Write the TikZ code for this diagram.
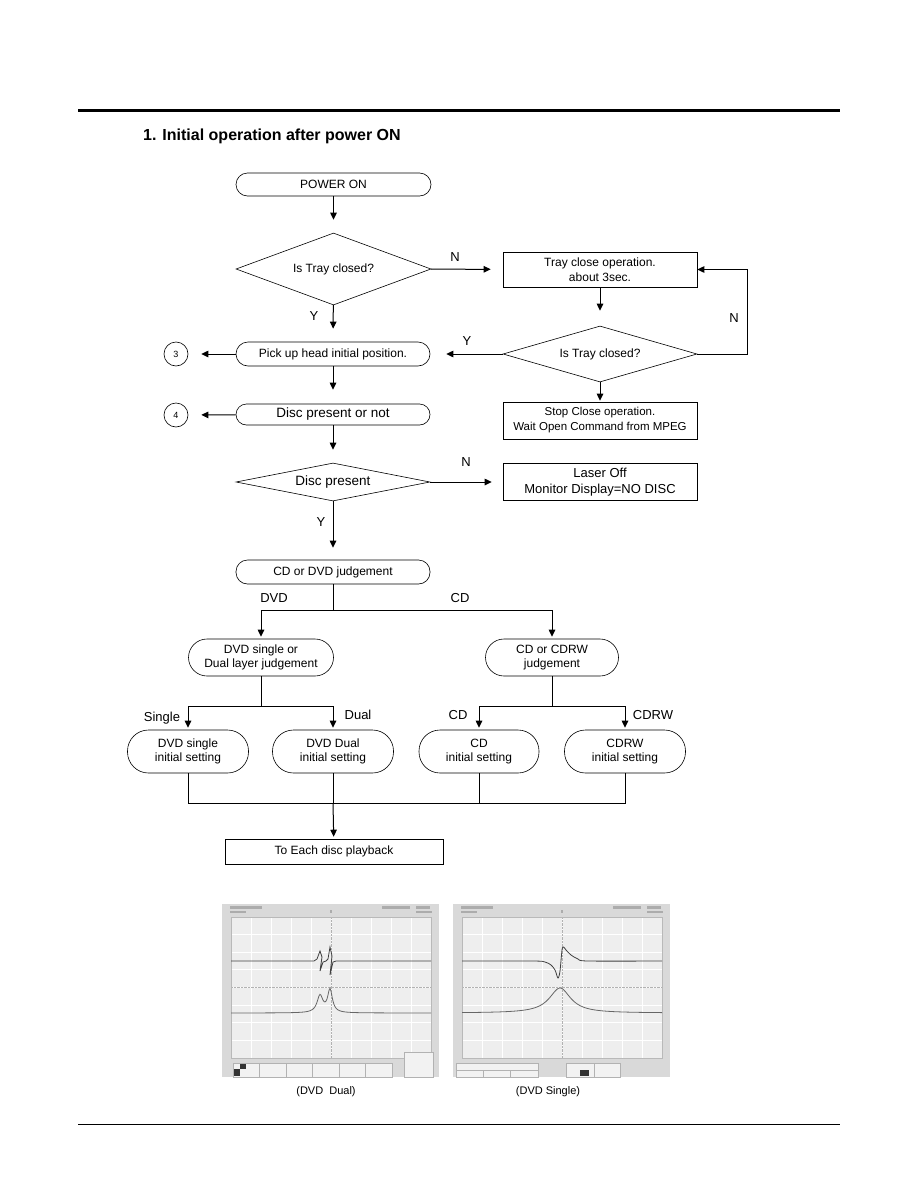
\documentclass[tikz,border=0pt]{standalone}
\usepackage{fontspec}
\setmainfont{Liberation Sans}
\usetikzlibrary{arrows.meta,shapes.geometric}

\newcommand{\oscgrid}{%
  \fill[gray!30] (0,0) rectangle (217,173);
  \fill[gray!13] (9,13) rectangle (209,154);
  \foreach \i in {0,...,10}
    \draw[white,line width=0.9pt] ({9+20*\i},13) -- ({9+20*\i},154);
  \foreach \j in {0,...,8}
    \draw[white,line width=0.9pt] (9,{13+17.625*\j}) -- (209,{13+17.625*\j});
  \draw[gray!60,densely dotted] (109,13) -- (109,154);
  \draw[gray!60,densely dotted] (9,83.5) -- (209,83.5);
  \draw[gray!55,line width=0.5pt] (9,13) rectangle (209,154);
  % readout marks
  \fill[gray!65] (8,2) rectangle (40,4.5);
  \fill[gray!65] (8,6.5) rectangle (24,9);
  \fill[gray!65] (160,2) rectangle (188,4.5);
  \fill[gray!65] (194,2) rectangle (208,4.5);
  \fill[gray!65] (194,6.5) rectangle (210,9);
  \fill[gray!65] (108,6) rectangle (110,9);
}

\begin{document}
\begin{tikzpicture}[x=1pt,y=-1pt,
  txt/.style={font=\fontsize{12}{14.5}\selectfont,align=center},
  pill/.style={draw,line width=0.6pt,txt,inner sep=0pt,rounded corners=#1},
  pill/.default=11.5pt,
  box/.style={draw,line width=0.6pt,txt,inner sep=0pt},
  test/.style={diamond,aspect=5,draw,line width=0.6pt,txt,inner sep=0pt},
  conn/.style={circle,draw,line width=0.6pt,minimum size=24pt,inner sep=0pt,
    font=\fontsize{9}{10}\selectfont},
  arr/.style={line width=1pt,-{Triangle[length=7pt,width=6.5pt]}},
  lnk/.style={line width=1pt},
  lab/.style={font=\fontsize{13}{15}\selectfont},
  scopecap/.style={font=\fontsize{11}{13}\selectfont}]

\useasboundingbox (0,0) rectangle (918,1188);

% Page rules and title
\draw[line width=3pt] (78,111) -- (840,111);
\draw[line width=0.9pt] (78,1124) -- (840,1124);
\node[anchor=base west,inner sep=0pt,font=\fontsize{16}{18}\selectfont\bfseries]
(title)
at (143,141)
{1. Initial operation after power ON};

% Power on and tray check
\node[pill,minimum width=195pt,minimum height=23pt]
(power)
at (333.5,184.5)
{POWER ON};

\node[test,minimum width=195pt,minimum height=72pt]
(trayA)
at (333.5,269)
{Is Tray closed?};

\node[box,minimum width=194pt,minimum height=35pt]
(close)
at (600,269.5)
{Tray close operation.\\about 3sec.};

\node[test,minimum width=194pt,minimum height=56pt]
(trayB)
at (600,354)
{Is Tray closed?};

\node[box,minimum width=194pt,minimum height=37pt,
  font=\fontsize{11.5}{15}\selectfont]
(stop)
at (600,420.5)
{Stop Close operation.\\Wait Open Command from MPEG};

% Pick up and disc check
\node[pill=12pt,minimum width=194pt,minimum height=24pt]
(pickup)
at (333,354)
{Pick up head initial position.};

\node[conn]
(c3)
at (176,354)
{3};

\node[pill=10.5pt,minimum width=194pt,minimum height=21pt,
  font=\fontsize{13.5}{15}\selectfont]
(discq)
at (333,414.5)
{Disc present or not};

\node[conn]
(c4)
at (176,415)
{4};

\node[test,minimum width=194pt,minimum height=38pt,
  font=\fontsize{13.5}{15}\selectfont]
(disc)
at (333,482)
{Disc present};

\node[box,minimum width=194pt,minimum height=37pt,
  font=\fontsize{13}{16}\selectfont]
(laser)
at (600,482)
{Laser Off\\Monitor Display=NO DISC};

% Disc type judgement
\node[pill,minimum width=194pt,minimum height=24pt]
(kind)
at (333,572)
{CD or DVD judgement};

\node[pill=18.5pt,minimum width=145pt,minimum height=37pt]
(dvdjudge)
at (261,657.5)
{DVD single or\\Dual layer judgement};

\node[pill=18.5pt,minimum width=133pt,minimum height=37pt]
(cdjudge)
at (552,657.5)
{CD or CDRW\\judgement};

% Initial settings
\node[pill=21pt,minimum width=121pt,minimum height=43pt]
(dvdsingle)
at (188,751.5)
{DVD single\\initial setting};

\node[pill=21pt,minimum width=121pt,minimum height=43pt]
(dvddual)
at (333,751.5)
{DVD Dual\\initial setting};

\node[pill=21pt,minimum width=120pt,minimum height=43pt]
(cdset)
at (479,751.5)
{CD\\initial setting};

\node[pill=21pt,minimum width=121pt,minimum height=43pt]
(cdrwset)
at (625,751.5)
{CDRW\\initial setting};

\node[box,minimum width=218pt,minimum height=25pt]
(play)
at (334,851.5)
{To Each disc playback};

% Junctions
\coordinate (split) at (333,610);
\coordinate (dvdsplit) at (261,706);
\coordinate (cdsplit) at (552,706);
\coordinate (merge) at (333,803);

% Connectors
\draw[arr,shorten >=13pt] (power) -- (trayA);
\draw[arr,shorten >=12pt] (trayA) -- (close);
\draw[arr,shorten >=13pt] (trayA) -- (pickup);
\draw[arr,shorten >=15pt] (close) -- (trayB);
\draw[arr,shorten >=16pt] (trayB) -- (pickup);
\draw[arr,shorten >=1pt] (trayB) -- (stop);
\draw[arr] (trayB.east) -- ++(50,0) |- (close.east);
\draw[arr,shorten >=13pt] (pickup) -- (c3);
\draw[arr,shorten >=14pt] (pickup) -- (discq);
\draw[arr,shorten >=13pt] (discq) -- (c4);
\draw[arr,shorten >=13pt] (discq) -- (disc);
\draw[arr,shorten >=11pt] (disc) -- (laser);
\draw[arr,shorten >=12pt] (disc) -- (kind);

\draw[lnk] (kind) -- (split);
\draw[arr,shorten >=2pt] (split) -| (dvdjudge);
\draw[arr,shorten >=2pt] (split) -| (cdjudge);
\draw[lnk] (dvdjudge) -- (dvdsplit);
\draw[arr,shorten >=2pt] (dvdsplit) -| (dvdsingle);
\draw[arr,shorten >=2pt] (dvdsplit) -| (dvddual);
\draw[lnk] (cdjudge) -- (cdsplit);
\draw[arr,shorten >=2pt] (cdsplit) -| (cdset);
\draw[arr,shorten >=2pt] (cdsplit) -| (cdrwset);

\draw[lnk] (dvdsingle) |- (merge);
\draw[lnk] (cdrwset) |- (merge);
\draw[lnk] (cdset) -- (cdset |- merge);
\draw[lnk] (dvddual) -- (merge);
\draw[arr,shorten >=2pt] (merge) -- (play);

% Branch labels
\node[lab] (nA) at (455,257) {N};
\node[lab] (yA) at (314,316) {Y};
\node[lab] (yB) at (467,341) {Y};
\node[lab] (nB) at (734,318) {N};
\node[lab] (nC) at (466,462) {N};
\node[lab] (yC) at (321,522) {Y};
\node[lab] (ldvd) at (274,598) {DVD};
\node[lab] (lcd) at (460,598) {CD};
\node[lab] (lsingle) at (162,718) {Single};
\node[lab] (ldual) at (358,715) {Dual};
\node[lab] (lcdb) at (458,715) {CD};
\node[lab] (lcdrw) at (653,715) {CDRW};

% Scope screenshots
\begin{scope}[shift={(222,904)}]
  \oscgrid
  \draw[black!75,line width=0.8pt] (9,57) -- (92,57) -- (95,55) -- (98,47)
    -- (100,53) -- (98,67) -- (101,58) -- (104,57) -- (106,55) -- (108,43)
    -- (110,52) -- (108,71) -- (111,58) -- (114,57) -- (209,57);
  \draw[black!60,line width=0.8pt] plot[domain=9:209,samples=201]
    (\x,{109-17/(1+((\x-98)/3.5)^2)-23/(1+((\x-108)/2.8)^2)});
  \foreach \k in {0,...,5}
    \draw[gray!60,fill=gray!10] ({11+26.5*\k},159) rectangle ++(26.5,14);
  \fill[black!80] (12,165) rectangle (18,172);
  \fill[black!80] (18,160) rectangle (24,165);
  \draw[gray!60,fill=gray!10] (182,148) rectangle (211,173);
\end{scope}
\node[scopecap] (capdual) at (326,1092) {(DVD~~Dual)};

\begin{scope}[shift={(453,904)}]
  \oscgrid
  \draw[black!75,line width=0.8pt] plot[smooth,tension=0.5] coordinates
    {(9,57) (80,57) (92,58) (98,61) (102,66) (105,74) (107,67) (109,46)
     (110.5,43) (113,46) (118,51) (125,55) (135,57) (209,57)};
  \draw[black!60,line width=0.8pt] plot[domain=9:209,samples=201]
    (\x,{109-25/(1+((\x-107)/13)^2)});
  \draw[gray!60,fill=gray!10] (3,159) rectangle (85,173);
  \draw[gray!60] (3,166) -- (85,166) (30,166) -- (30,173) (57,166) -- (57,173);
  \draw[gray!60,fill=gray!10] (113,159) rectangle (141,173);
  \draw[gray!60,fill=gray!10] (141,159) rectangle (167,173);
  \fill[black!80] (127,166) rectangle (136,172);
\end{scope}
\node[scopecap] (capsingle) at (548,1092) {(DVD Single)};

\end{tikzpicture}
\end{document}
